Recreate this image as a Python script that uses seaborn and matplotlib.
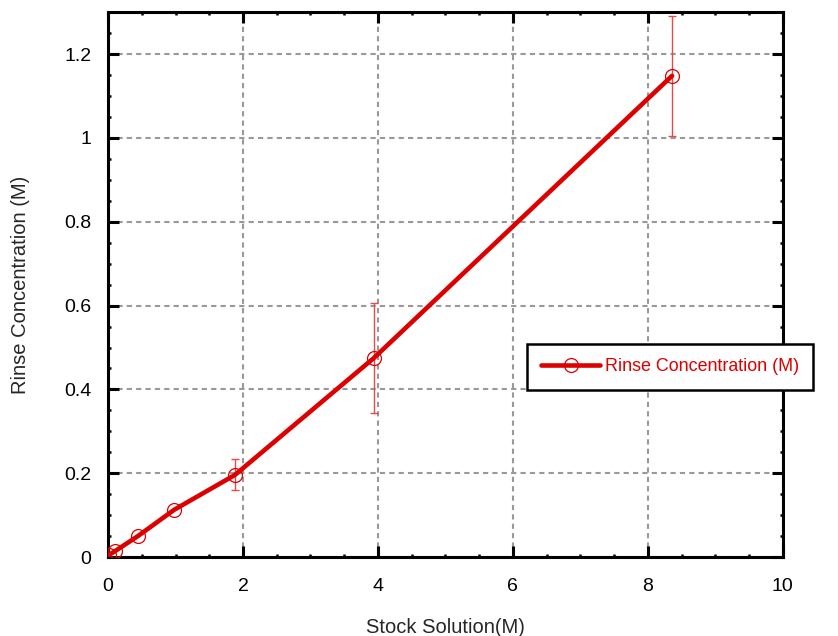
import numpy as np
import matplotlib
matplotlib.use("Agg")
import matplotlib.pyplot as plt
from matplotlib.ticker import MultipleLocator, FuncFormatter
import seaborn as sns

# values
stock = [0.02, 0.10, 0.44, 0.98, 1.88, 3.94, 8.36]
rinse = [0.006, 0.014, 0.050, 0.113, 0.196, 0.475, 1.148]
rinse_err = [0.0, 0.0, 0.0, 0.0, 0.037, 0.132, 0.143]

sns.set_style("ticks")
plt.rcParams["font.family"] = ["Liberation Sans", "DejaVu Sans"]

fig = plt.figure(figsize=(8.38, 6.36), dpi=100)
ax = fig.add_axes([0.129, 0.124, 0.805, 0.857])

red = "#dd0000"
sns.lineplot(x=stock, y=rinse, ax=ax, color=red, linewidth=3.3,
             marker="o", markersize=10, markerfacecolor="none",
             markeredgecolor=red, markeredgewidth=0.9,
             label="Rinse Concentration (M)", zorder=3)

# error bars only where they were drawn
mask = np.array(rinse_err) > 0
ax.errorbar(np.array(stock)[mask], np.array(rinse)[mask],
            yerr=np.array(rinse_err)[mask], fmt="none",
            ecolor="#e64a4a", elinewidth=1.0, capsize=3, capthick=1.0, zorder=2)

ax.set_xlim(0, 10)
ax.set_ylim(0, 1.3)
ax.xaxis.set_major_locator(MultipleLocator(2))
ax.xaxis.set_minor_locator(MultipleLocator(0.5))
ax.yaxis.set_major_locator(MultipleLocator(0.2))
ax.yaxis.set_minor_locator(MultipleLocator(0.05))
ax.yaxis.set_major_formatter(FuncFormatter(lambda v, p: f"{v:g}"))
ax.xaxis.set_major_formatter(FuncFormatter(lambda v, p: f"{v:g}"))

ax.grid(True, which="major", color="#999999", linestyle=(0, (2.5, 2)), linewidth=1.5)
ax.set_axisbelow(True)

for s in ax.spines.values():
    s.set_visible(True)
    s.set_color("black")
    s.set_linewidth(2.2)

ax.tick_params(which="both", direction="in", top=True, right=True, colors="black",
               labelsize=14)
ax.tick_params(which="major", length=8, width=2.2)
ax.tick_params(which="minor", length=2.5, width=1.8)
ax.tick_params(axis="x", which="major", pad=15)
ax.tick_params(axis="y", which="major", pad=12)

ax.set_xlabel("Stock Solution(M)", fontsize=14.5)
ax.set_ylabel("Rinse Concentration (M)", fontsize=14.5)
ax.xaxis.set_label_coords(0.5, -0.112)
ax.yaxis.set_label_coords(-0.116, 0.5)

leg = ax.legend(loc="center left", bbox_to_anchor=(0.621, 0.349), borderaxespad=0,
                fontsize=12.9, frameon=True, fancybox=False, framealpha=1,
                edgecolor="black", labelcolor=red, handlelength=3.3,
                borderpad=0.8, handletextpad=0.25)
leg.get_frame().set_linewidth(1.8)

fig.savefig("out.png", dpi=100)
